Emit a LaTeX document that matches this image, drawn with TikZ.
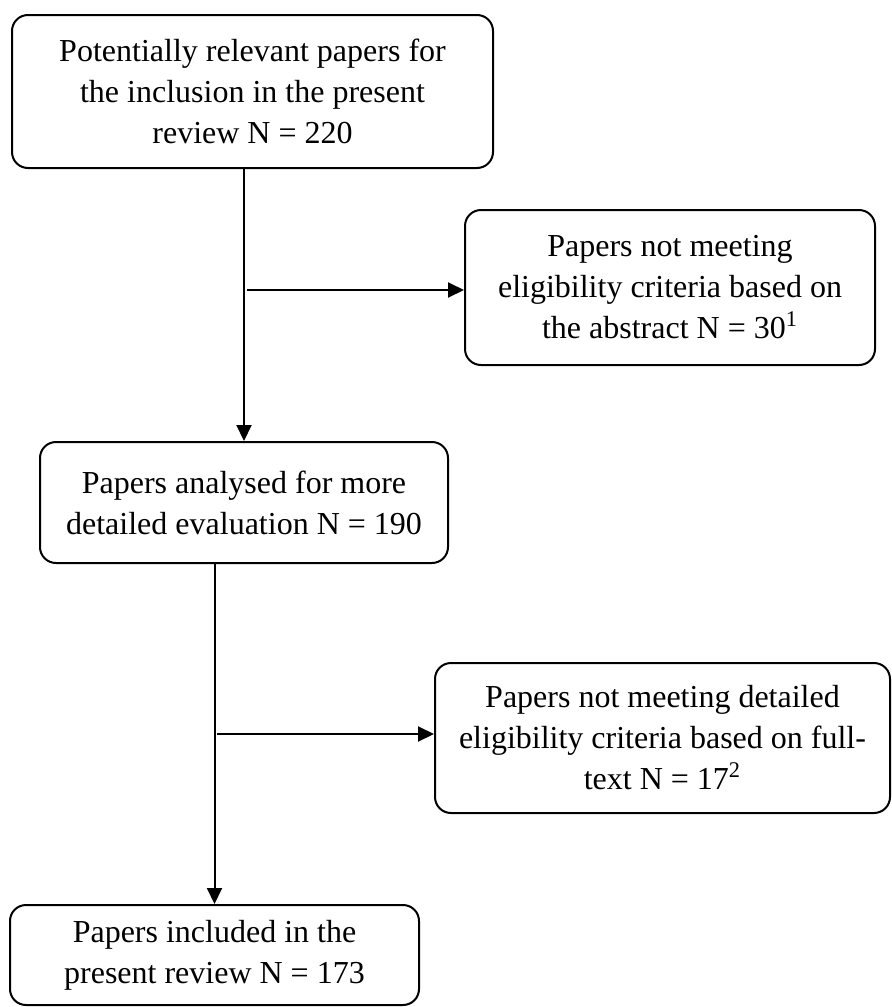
\documentclass[tikz,border=0pt]{standalone}
\usepackage{fontspec}
\setmainfont{Liberation Serif}
\usetikzlibrary{arrows.meta}

\begin{document}
\begin{tikzpicture}[
    x=0.5pt, y=-0.5pt,
    box/.style={rectangle, draw, line width=1pt, rounded corners=8pt, align=center, inner sep=0pt, font=\fontsize{16}{20.5}\selectfont},
    arrow/.style={-{Triangle[length=8pt,width=7.5pt]}, line width=1pt}
]
\useasboundingbox (0,0) rectangle (892,1007);

\node[box, minimum width=240.5pt, minimum height=76.5pt] (potential) at (252.5,91.5) {Potentially relevant papers for\\the inclusion in the present\\review N = 220};
\node[box, minimum width=205pt, minimum height=77.5pt] (abstract) at (670,287.5) {Papers not meeting\\eligibility criteria based on\\the abstract N = 30\textsuperscript{1}};
\node[box, minimum width=204pt, minimum height=60.5pt] (analysed) at (244,502.5) {Papers analysed for more\\detailed evaluation N = 190};
\node[box, minimum width=227.5pt, minimum height=75pt] (fulltext) at (662.5,738) {Papers not meeting detailed\\eligibility criteria based on full-\\text N = 17\textsuperscript{2}};
\node[box, minimum width=204.5pt, minimum height=50pt] (included) at (214.5,955) {Papers included in the\\present review N = 173};

\coordinate (split1) at (247,290);
\coordinate (split2) at (217,734);

\draw[arrow] (analysed.north |- potential.south) -- (analysed.north);
\draw[arrow] (split1) -- (split1 -| abstract.west);
\draw[arrow] (included.north |- analysed.south) -- (included.north);
\draw[arrow] (split2) -- (split2 -| fulltext.west);
\end{tikzpicture}
\end{document}
